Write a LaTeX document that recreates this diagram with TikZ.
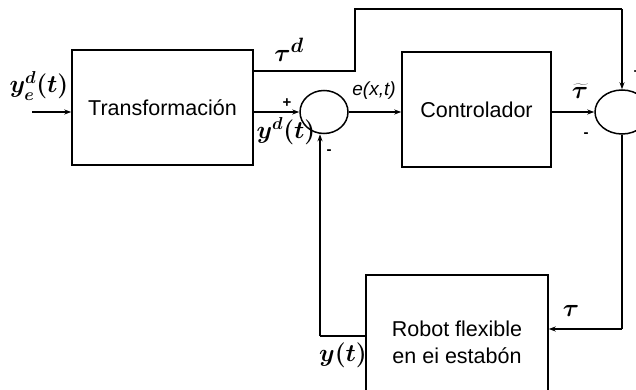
\documentclass[tikz,border=0pt]{standalone}
\usepackage{fontspec}
\setmainfont{Liberation Sans}
\usetikzlibrary{arrows.meta,shapes.geometric}
\tikzset{
  blk/.style={draw,line width=1.5pt,rectangle,inner sep=0pt,font=\fontsize{21.5}{27}\selectfont,align=center},
  sumj/.style={draw,line width=1.5pt,ellipse,inner sep=0pt},
  conn/.style={line width=1.5pt},
  arr/.style={line width=1.5pt,-{Stealth[length=7pt,width=5pt]}},
  lbl/.style={inner sep=0pt,font=\fontsize{24}{26}\selectfont\boldmath},
  sgn/.style={inner sep=0pt,font=\fontsize{15}{15}\bfseries\selectfont}
}
\begin{document}
\begin{tikzpicture}[x=1pt,y=-1pt]
\useasboundingbox (0,0) rectangle (636,390);
% blocks
\node[blk,minimum width=181pt,minimum height=115pt] (trans) at (162.5,107.5) {Transformación};
\node[blk,minimum width=149pt,minimum height=115pt] (ctrl) at (476.5,109.5) {Controlador};
\node[blk,minimum width=182pt,minimum height=134pt] (robot) at (457,342) {Robot flexible\\en ei estabón};
\node[sumj,minimum width=48pt,minimum height=43pt] (s1) at (324,112) {};
\node[sumj,minimum width=54pt,minimum height=44pt] (s2) at (622,112) {};
% coordinates
\coordinate (in) at (32,112);
\coordinate (tdA) at (355,71);
\coordinate (tdB) at (355,9);
\coordinate (tdC) at (622,9);
\coordinate (fbR) at (622,329);
\coordinate (fbL) at (320,336);
% connectors
\draw[arr] (in) -- (in -| trans.west);
\draw[arr] (trans.east |- s1) -- (s1.west);
\draw[conn] (trans.east |- tdA) -- (tdA) -- (tdB) -- (tdC);
\draw[arr] (tdC) -- (s2.north);
\draw[arr] (s1.east) -- (ctrl.west |- s1);
\draw[arr] (ctrl.east |- s2) -- (s2.west);
\draw[conn] (s2.south) -- (fbR);
\draw[arr] (fbR) -- (robot.east |- fbR);
\draw[conn] (robot.west |- fbL) -- (fbL);
\draw[arr] (fbL) -- (fbL |- s1.south);
% labels
\node[lbl] (lye) at (39,86) {$y_e^d(t)$};
\node[lbl,font=\fontsize{28}{30}\selectfont\boldmath] (ltd) at (289,50) {$\tau^d$};
\node[lbl] (lyd) at (286,131) {$y^d(t)$};
\node[sgn] (p1) at (287,103) {+};
\node[inner sep=0pt,font=\fontsize{19}{19}\itshape\selectfont] (le) at (374,91) {e(x,t)};
\node[sgn] (m1) at (329,152) {-};
\node[lbl,font=\fontsize{30}{32}\selectfont\boldmath] (ltt) at (580,91) {$\widetilde{\tau}$};
\node[sgn] (m2) at (586,135) {-};
\node[sgn] (p2) at (638,72) {+};
\node[lbl,font=\fontsize{28}{30}\selectfont\boldmath] (ltau) at (571,311) {$\tau$};
\node[lbl] (lyt) at (343,355) {$y(t)$};
\end{tikzpicture}
\end{document}
